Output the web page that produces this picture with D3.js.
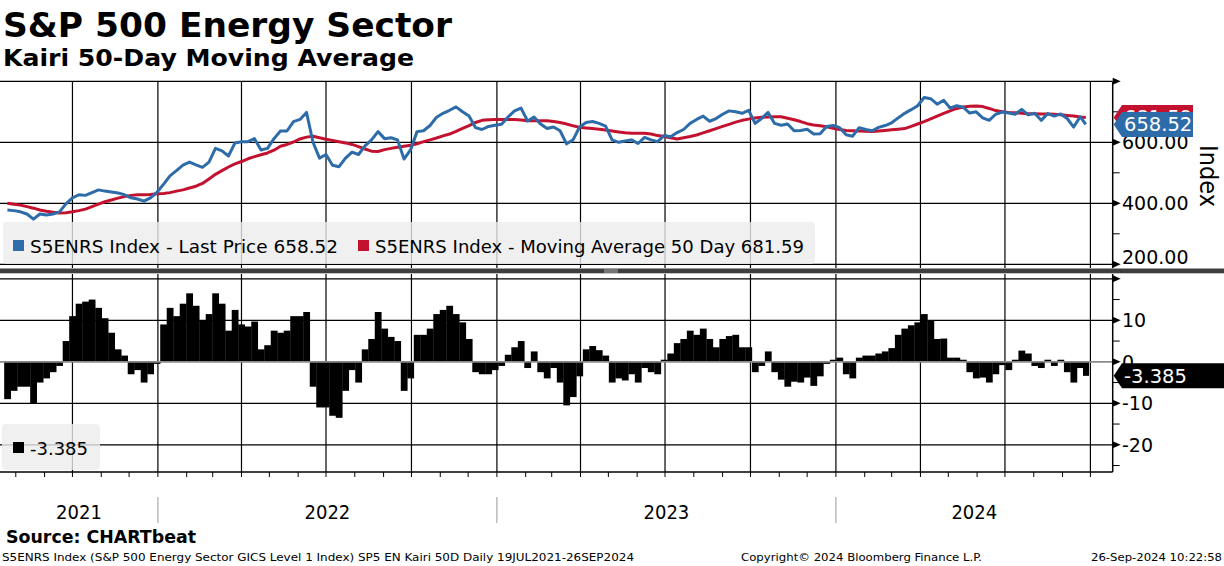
<!DOCTYPE html>
<html>
<head>
<meta charset="utf-8">
<script src="https://cdn.jsdelivr.net/npm/d3@7"></script>
<style>
body { margin: 0; background: #fff; }
text { font-family: "DejaVu Sans Condensed", "DejaVu Sans", sans-serif; }
</style>
</head>
<body>
<svg id="chart" width="1224" height="566"></svg>
<script>
// weekly closes (Fridays), last point is 26-Sep-2024
var dates = d3.timeFriday.range(new Date(2021, 6, 23), new Date(2024, 8, 21)).concat([new Date(2024, 8, 26)]);

var price = [
    378, 376, 372, 365, 348, 365, 362, 365, 372, 398,
    418, 428, 426, 435, 444, 440, 437, 434, 428, 418,
    414, 407, 418, 436, 462, 490, 507, 525, 535, 526,
    518, 535, 580, 572, 555, 598, 602, 602, 612, 575,
    580, 612, 637, 637, 668, 675, 698, 600, 548, 560,
    525, 520, 548, 568, 560, 588, 608, 635, 612, 615,
    608, 545, 575, 635, 638, 655, 682, 695, 705, 716,
    700, 686, 648, 642, 652, 656, 659, 683, 703, 712,
    670, 683, 660, 645, 650, 638, 595, 608, 650, 665,
    668, 662, 653, 608, 600, 604, 608, 596, 616, 608,
    602, 622, 618, 632, 642, 662, 675, 686, 669, 678,
    692, 703, 700, 695, 705, 662, 678, 698, 662, 656,
    660, 638, 639, 643, 627, 628, 652, 655, 648, 625,
    620, 648, 642, 638, 649, 655, 664, 680, 695, 707,
    720, 747, 743, 725, 738, 712, 720, 715, 696, 700,
    680, 672, 692, 699, 696, 692, 708, 690, 695, 672,
    694, 686, 693, 678, 650, 684, 658.52
];

var ma50 = [
    400, 397, 394, 389, 384, 378, 374, 371, 368, 369,
    372, 376, 381, 389, 397, 405, 411, 417, 422, 426,
    428, 428, 429, 431, 432, 435, 440, 444, 450, 456,
    465, 480, 495, 507, 519, 529, 537, 546, 553, 559,
    565, 574, 587, 593, 601, 611, 617, 620, 615, 610,
    606, 602, 598, 593, 586, 578, 571, 570, 576, 580,
    584, 587, 590, 595, 602, 608, 614, 621, 627, 636,
    646, 655, 665, 672, 674, 675, 675, 675, 675, 673,
    671, 671, 671, 671, 668, 665, 660, 654, 649, 647,
    645, 643, 640, 637, 634, 631, 630, 630, 630, 627,
    622, 619, 615, 611, 615, 619, 624, 631, 638, 645,
    652, 659, 666, 672, 676, 680, 682, 683, 684, 684,
    679, 674, 668, 661, 657, 654, 651, 646, 642, 639,
    638, 637, 636, 635, 637, 639, 641, 643, 645, 652,
    660, 668, 677, 686, 695, 703, 711, 716, 718, 719,
    717, 711, 704, 700, 698, 697, 695, 694, 694, 693,
    693, 692, 690, 688, 686, 683, 681.59
];

var kairi = [
    -9, -7, -6, -6, -10, -5, -4, -2.5, -1, 5,
    11, 14, 14.5, 15, 13, 10.5, 7, 3, 1.5, -3,
    -2, -5, -3, -0.5, 9, 13, 11, 14, 16.5, 13.5,
    10, 11.5, 16.5, 14, 7.5, 12.5, 9, 8.5, 9.7, 3,
    4, 7.5, 7, 7.5, 11, 11, 12, -6, -11, -11,
    -13, -13.5, -7, -2, -5, 3, 5.5, 12, 8, 6,
    5, -7, -4, 6.5, 6.5, 8, 11.5, 12.5, 13.5, 11.5,
    9.5, 5.5, -2.5, -3, -3, -2, -1, 1.7, 3.5, 5,
    -1.5, 2.5, -2.5, -4, -1.5, -5, -10.5, -8.5, -3.5, 3,
    3.8, 2.8, 1.5, -5, -4, -4.5, -3, -5, -1.5, -2.5,
    -3, 0.5, 2, 4.5, 5.5, 7.5, 6.5, 8, 5.5, 3.5,
    5.5, 6.2, 6.5, 3.5, 3.5, -2.5, -1, 2.5, -2.5, -4.3,
    -6, -4.8, -5, -3.8, -5.8, -3.5, -0.5, 0.5, 1, -3,
    -4, 1, 1.5, 1.5, 2, 2.5, 3.3, 6.5, 8, 8.8,
    9.5, 11.5, 10, 5.5, 5.6, 1, 1, 0.5, -2.5, -4,
    -3.8, -5, -3, -0.8, -2, 0.5, 2.7, 2, -1, -1.5,
    0.5, -1, 0.5, -2.5, -5, -1.5, -3.385
];

var priceTicks = [800, 600, 400, 200],
    priceMinor = [700, 500, 300],
    kairiTicks = [20, 10, 0, -10, -20],
    kairiMinor = [15, 5, -5, -15, -25],
    kairiLabels = [10, 0, -10, -20];

var lastPrice = 658.52, lastMA = 681.59, lastKairi = -3.385;

var BLUE = "#2d6ca8", RED = "#c3122f";

var svg = d3.select("#chart");
var plotR = 1112.7,
    topY0 = 82, topY1 = 268,   // upper panel
    botY0 = 274, botY1 = 472;  // lower panel

var x = d3.scaleTime().domain([new Date(2021, 6, 15), new Date(2024, 9, 25)]).range([0, plotR]);
var yP = d3.scaleLinear().domain([200, 800]).range([264.3, 81.3]);
var yK = d3.scaleLinear().domain([-10, 10]).range([403.3, 320.3]);

var defs = svg.append("defs");
defs.append("clipPath").attr("id", "clipTop").append("rect")
    .attr("x", 0).attr("y", topY0 - 1).attr("width", plotR).attr("height", topY1 - topY0 + 1);
defs.append("clipPath").attr("id", "clipBot").append("rect")
    .attr("x", 0).attr("y", botY0).attr("width", plotR).attr("height", botY1 - botY0);

// titles
svg.append("text").attr("x", 3).attr("y", 37)
    .style("font-family", "'DejaVu Sans', sans-serif").style("font-weight", "bold")
    .style("font-size", "34px").attr("textLength", 449).attr("lengthAdjust", "spacingAndGlyphs")
    .text("S&P 500 Energy Sector");
svg.append("text").attr("x", 3).attr("y", 66)
    .style("font-family", "'DejaVu Sans', sans-serif").style("font-weight", "bold")
    .style("font-size", "23px").attr("textLength", 411).attr("lengthAdjust", "spacingAndGlyphs")
    .text("Kairi 50-Day Moving Average");

var quarters = d3.timeMonth.every(3).range(new Date(2021, 9, 1), new Date(2024, 9, 2));

// ---- upper panel grid
var gTop = svg.append("g");
gTop.selectAll(".vg").data(quarters).enter().append("line")
    .attr("x1", function(d) { return x(d); }).attr("x2", function(d) { return x(d); })
    .attr("y1", topY0).attr("y2", topY1).attr("stroke", "#000").attr("stroke-width", 1.2);
gTop.selectAll(".hg").data(priceTicks).enter().append("line")
    .attr("x1", 0).attr("x2", plotR)
    .attr("y1", function(d) { return yP(d); }).attr("y2", function(d) { return yP(d); })
    .attr("stroke", "#000").attr("stroke-width", 1.2);

var line = function(vals) {
    return d3.line()
        .x(function(d, i) { return x(dates[i]); })
        .y(function(d) { return yP(d); })(vals);
};
var gLines = svg.append("g").attr("clip-path", "url(#clipTop)");
gLines.append("path").attr("d", line(ma50)).attr("fill", "none")
    .attr("stroke", RED).attr("stroke-width", 3).attr("stroke-linejoin", "round");
gLines.append("path").attr("d", line(price)).attr("fill", "none")
    .attr("stroke", BLUE).attr("stroke-width", 3).attr("stroke-linejoin", "round");

// legend upper
svg.append("rect").attr("x", 3).attr("y", 222).attr("width", 812).attr("height", 42).attr("rx", 4)
    .attr("fill", "#ececec").attr("fill-opacity", 0.8);
svg.append("rect").attr("x", 13).attr("y", 240).attr("width", 11).attr("height", 11).attr("fill", BLUE);
svg.append("text").attr("x", 30).attr("y", 252.5).style("font-size", "17px")
    .attr("textLength", 308).attr("lengthAdjust", "spacingAndGlyphs")
    .text("S5ENRS Index - Last Price 658.52");
svg.append("rect").attr("x", 358).attr("y", 240).attr("width", 11).attr("height", 11).attr("fill", RED);
svg.append("text").attr("x", 375).attr("y", 252.5).style("font-size", "17px")
    .attr("textLength", 429).attr("lengthAdjust", "spacingAndGlyphs")
    .text("S5ENRS Index - Moving Average 50 Day 681.59");

// separator between panels
svg.append("rect").attr("x", 0).attr("y", 268.5).attr("width", 1224).attr("height", 4.8).attr("fill", "#3e3e3e");
[270, 272].forEach(function(yy) {
    svg.append("line").attr("x1", 604).attr("x2", 618).attr("y1", yy).attr("y2", yy)
        .attr("stroke", "#c8c8c8").attr("stroke-width", 0.8);
});

// ---- lower panel
var gBot = svg.append("g");
gBot.selectAll(".vg").data(quarters).enter().append("line")
    .attr("x1", function(d) { return x(d); }).attr("x2", function(d) { return x(d); })
    .attr("y1", botY0).attr("y2", botY1).attr("stroke", "#000").attr("stroke-width", 1.2);
gBot.selectAll(".hg").data(kairiTicks.filter(function(d) { return d !== 0; })).enter().append("line")
    .attr("x1", 0).attr("x2", plotR)
    .attr("y1", function(d) { return yK(d); }).attr("y2", function(d) { return yK(d); })
    .attr("stroke", "#000").attr("stroke-width", 1.2);

var xs = dates.map(function(d) { return x(d); });
var edges = xs.map(function(v, i) {
    var l = i === 0 ? v - 3.25 : (xs[i - 1] + v) / 2;
    var r = i === xs.length - 1 ? v + 3 : (v + xs[i + 1]) / 2;
    return [l, r];
});
svg.append("g").attr("clip-path", "url(#clipBot)")
    .selectAll("rect").data(kairi).enter().append("rect")
    .attr("x", function(d, i) { return edges[i][0]; })
    .attr("width", function(d, i) { return edges[i][1] - edges[i][0] + 0.3; })
    .attr("y", function(d) { return Math.min(yK(d), yK(0)); })
    .attr("height", function(d) { return Math.abs(yK(d) - yK(0)); })
    .attr("fill", "#000");
svg.append("line").attr("x1", 0).attr("x2", plotR).attr("y1", yK(0)).attr("y2", yK(0))
    .attr("stroke", "#8a8a8a").attr("stroke-width", 1.8);

// legend lower
svg.append("rect").attr("x", 2).attr("y", 424).attr("width", 98).attr("height", 46).attr("rx", 4)
    .attr("fill", "#ececec").attr("fill-opacity", 0.8);
svg.append("rect").attr("x", 13).attr("y", 442).attr("width", 11).attr("height", 11).attr("fill", "#000");
svg.append("text").attr("x", 30).attr("y", 455).style("font-size", "17px")
    .attr("textLength", 58).attr("lengthAdjust", "spacingAndGlyphs").text("-3.385");

// bottom time axis
svg.append("line").attr("x1", 0).attr("x2", plotR).attr("y1", botY1).attr("y2", botY1)
    .attr("stroke", "#000").attr("stroke-width", 1.5);
svg.selectAll(".mt").data(d3.timeMonth.range(new Date(2021, 7, 1), new Date(2024, 10, 1))).enter()
    .append("line")
    .attr("x1", function(d) { return x(d); }).attr("x2", function(d) { return x(d); })
    .attr("y1", botY1).attr("y2", botY1 + 5).attr("stroke", "#000").attr("stroke-width", 1);

var years = [2021, 2022, 2023, 2024];
years.forEach(function(yr) {
    var a = Math.max(0, x(new Date(yr, 0, 1))), b = Math.min(plotR, x(new Date(yr + 1, 0, 1)));
    svg.append("text").attr("x", (a + b) / 2).attr("y", 519).attr("text-anchor", "middle")
        .style("font-size", "20px").text(yr);
    if (yr > 2021)
        svg.append("line").attr("x1", x(new Date(yr, 0, 1))).attr("x2", x(new Date(yr, 0, 1)))
            .attr("y1", 497).attr("y2", 523).attr("stroke", "#999").attr("stroke-width", 1);
});

// right axes
function rightAxis(y0, y1, major, minor, labels, scale, fmt, bottomLimit) {
    svg.append("line").attr("x1", plotR).attr("x2", plotR).attr("y1", y0).attr("y2", y1)
        .attr("stroke", "#000").attr("stroke-width", 1.5);
    major.forEach(function(v) {
        var yy = scale(v);
        svg.append("path").attr("d", "M" + plotR + "," + (yy - 3.5) + "L" + (plotR + 8) + "," + yy + "L" + plotR + "," + (yy + 3.5) + "Z")
            .attr("fill", "#000");
    });
    minor.forEach(function(v) {
        var yy = scale(v);
        svg.append("line").attr("x1", plotR).attr("x2", plotR + 7).attr("y1", yy).attr("y2", yy)
            .attr("stroke", "#000").attr("stroke-width", 1);
    });
    labels.forEach(function(v) {
        svg.append("text").attr("x", 1122).attr("y", Math.min(scale(v), bottomLimit)).attr("dy", "0.36em")
            .style("font-family", "'DejaVu Sans', sans-serif").style("font-size", "19px").text(fmt(v));
    });
}
rightAxis(topY0, topY1, priceTicks, priceMinor, [600, 400, 200], yP, d3.format(".2f"), 257);
rightAxis(botY0, botY1, kairiTicks, kairiMinor, kairiLabels, yK, function(v) { return String(v); }, 999);

svg.append("text").attr("transform", "translate(1200,176) rotate(90)").attr("text-anchor", "middle")
    .style("font-size", "25px").text("Index");

// value tags
function tag(v, scale, fill, label, right) {
    var yy = scale(v), h = 12.5;
    svg.append("path")
        .attr("d", "M" + (plotR + 1) + "," + yy + "L" + 1122 + "," + (yy - h) + "L" + right + "," + (yy - h) +
            "L" + right + "," + (yy + h) + "L" + 1122 + "," + (yy + h) + "Z")
        .attr("fill", fill);
    svg.append("text").attr("x", 1124).attr("y", yy).attr("dy", "0.36em").attr("fill", "#fff")
        .style("font-family", "'DejaVu Sans', sans-serif").style("font-size", "19.5px").text(label);
}
tag(lastMA, yP, RED, d3.format(".2f")(lastMA), 1193);
tag(lastPrice, yP, BLUE, d3.format(".2f")(lastPrice), 1193);
tag(lastKairi, yK, "#000", String(lastKairi), 1224);

// footer
svg.append("text").attr("x", 6).attr("y", 543).style("font-weight", "bold").style("font-size", "18px")
    .attr("textLength", 190).attr("lengthAdjust", "spacingAndGlyphs").text("Source: CHARTbeat");
svg.append("text").attr("x", 2).attr("y", 561).style("font-size", "11px")
    .attr("textLength", 632).attr("lengthAdjust", "spacingAndGlyphs")
    .text("S5ENRS Index (S&P 500 Energy Sector GICS Level 1 Index) SP5 EN Kairi 50D  Daily 19JUL2021-26SEP2024");
svg.append("text").attr("x", 741).attr("y", 561).style("font-size", "11px")
    .attr("textLength", 241).attr("lengthAdjust", "spacingAndGlyphs")
    .text("Copyright\u00a9 2024 Bloomberg Finance L.P.");
svg.append("text").attr("x", 1091).attr("y", 561).style("font-size", "11px")
    .attr("textLength", 131).attr("lengthAdjust", "spacingAndGlyphs")
    .text("26-Sep-2024 10:22:58");
</script>
</body>
</html>
